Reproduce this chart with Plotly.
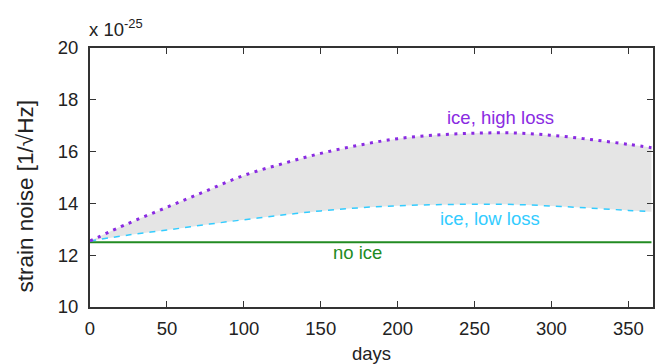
import plotly.graph_objects as go

days = [0, 25, 50, 75, 100, 125, 150, 175, 200, 225, 250, 275, 300, 325, 350, 365]
high_loss = [12.55, 13.23, 13.85, 14.47, 15.08, 15.53, 15.93, 16.25, 16.5, 16.64, 16.71, 16.72, 16.63, 16.47, 16.28, 16.15]
low_loss = [12.55, 12.78, 12.97, 13.18, 13.37, 13.55, 13.71, 13.83, 13.91, 13.95, 13.97, 13.96, 13.9, 13.82, 13.73, 13.68]
no_ice = [12.5] * len(days)

x_ticks = [0, 50, 100, 150, 200, 250, 300, 350]
y_ticks = [10, 12, 14, 16, 18, 20]

FONT = "Liberation Sans, Arial, sans-serif"
PURPLE = "#8a2be2"
CYAN = "#33ccff"
GREEN = "#228b22"
TXT = "#222222"

fig = go.Figure()
# gray band between curves
fig.add_trace(go.Scatter(x=days, y=low_loss, mode="lines", line=dict(width=0, shape="spline"),
                         showlegend=False, hoverinfo="skip"))
fig.add_trace(go.Scatter(x=days, y=high_loss, mode="lines", line=dict(width=0, shape="spline"),
                         fill="tonexty", fillcolor="#e5e5e5", showlegend=False, hoverinfo="skip"))
fig.add_trace(go.Scatter(x=days, y=no_ice, mode="lines", line=dict(color=GREEN, width=2),
                         showlegend=False))
fig.add_trace(go.Scatter(x=days, y=low_loss, mode="lines",
                         line=dict(color=CYAN, width=1.5, dash="6px,6px", shape="spline"),
                         showlegend=False))
fig.add_trace(go.Scatter(x=days, y=high_loss, mode="lines",
                         line=dict(color=PURPLE, width=3, dash="3px,5.5px", shape="spline"),
                         showlegend=False))

axis_common = dict(showgrid=False, zeroline=False, showline=True, linecolor="#333333", linewidth=2,
                   mirror="ticks", ticks="inside", ticklen=6, tickcolor="#333333", tickwidth=1,
                   tickfont=dict(family=FONT, size=18.5, color=TXT))

fig.update_xaxes(range=[0, 366], tickvals=x_ticks, ticktext=[str(v) for v in x_ticks],
                 ticklabelstandoff=4, **axis_common)
fig.update_yaxes(range=[10, 20], tickvals=y_ticks, ticktext=[str(v) for v in y_ticks],
                 ticklabelstandoff=6, **axis_common)

annotations = [
    dict(text="ice, high loss", x=267, y=17.3, xref="x", yref="y", showarrow=False,
         font=dict(family=FONT, size=18.5, color=PURPLE)),
    dict(text="ice, low loss", x=260, y=13.4, xref="x", yref="y", showarrow=False,
         font=dict(family=FONT, size=18.5, color=CYAN)),
    dict(text="no ice", x=174, y=12.1, xref="x", yref="y", showarrow=False,
         font=dict(family=FONT, size=18.5, color=GREEN)),
    dict(text="x 10<sup>-25</sup>", x=0, y=1, xref="paper", yref="paper", xanchor="left",
         yanchor="bottom", yshift=6, xshift=-3, showarrow=False,
         font=dict(family=FONT, size=18.5, color=TXT)),
    dict(text="days", x=0.5, y=0, xref="paper", yref="paper", xanchor="center", yanchor="middle",
         yshift=-46, showarrow=False, font=dict(family=FONT, size=18.5, color=TXT)),
    dict(text="strain noise [1/√Hz]", x=0, y=0.5, xref="paper", yref="paper", xanchor="center",
         yanchor="middle", xshift=-65, yshift=-19, textangle=-90, showarrow=False,
         font=dict(family=FONT, size=22.5, color=TXT)),
]

fig.update_layout(
    width=665, height=364,
    margin=dict(l=90, r=10, t=48, b=57),
    paper_bgcolor="white", plot_bgcolor="white",
    annotations=annotations,
    showlegend=False,
)

fig.write_html("out.html")
